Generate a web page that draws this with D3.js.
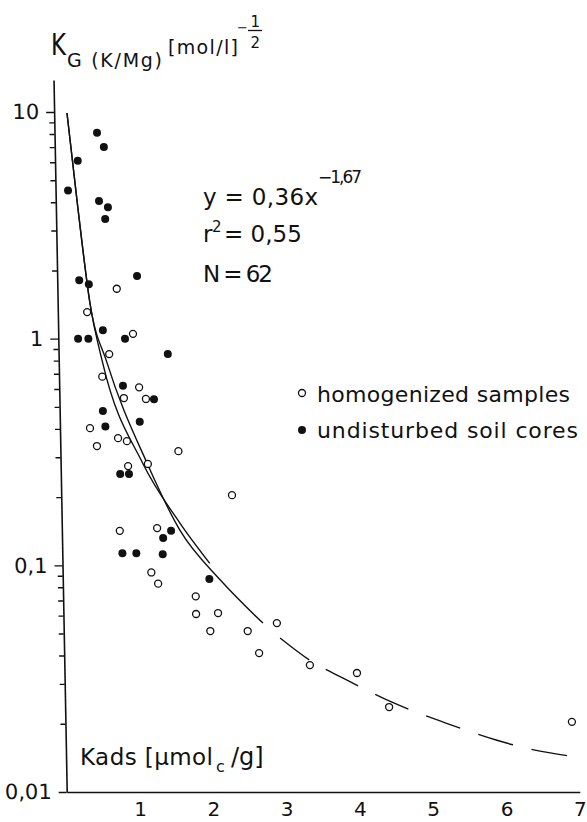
<!DOCTYPE html>
<html>
<head>
<meta charset="utf-8">
<script src="https://cdn.jsdelivr.net/npm/d3@7"></script>
<style>
  body { margin: 0; background: #fff; }
  text { font-family: "DejaVu Sans", sans-serif; fill: #111; }
</style>
</head>
<body>
<svg id="chart" width="587" height="822"></svg>
<script>
// values: [Kads (µmol_c/g), K_G]
const homogenized = [
    [0.81, 1.66], [0.40, 1.31], [1.02, 1.05], [0.69, 0.855], [0.59, 0.68], [1.09, 0.61],
    [0.88, 0.547], [1.18, 0.542], [0.41, 0.403], [0.50, 0.336], [0.79, 0.364], [0.91, 0.353],
    [1.61, 0.319], [0.92, 0.274], [1.19, 0.28], [2.33, 0.204], [0.79, 0.142], [1.30, 0.146],
    [1.21, 0.093], [1.30, 0.083], [1.81, 0.073], [1.81, 0.061], [2.11, 0.0616], [2.00, 0.0513],
    [2.51, 0.0513], [2.91, 0.0556], [2.66, 0.041], [3.35, 0.0363], [3.99, 0.0335], [4.42, 0.0237],
    [6.91, 0.0204]
];
const undisturbed = [
    [0.17, 4.5], [0.31, 6.1], [0.58, 8.1], [0.67, 7.0], [0.59, 4.05], [0.71, 3.8], [0.67, 3.37],
    [0.30, 1.81], [0.43, 1.74], [1.09, 1.89], [0.27, 1.0], [0.41, 1.0], [0.61, 1.09], [0.91, 1.0],
    [1.49, 0.855], [0.87, 0.62], [0.59, 0.48], [1.29, 0.54], [1.09, 0.43], [0.62, 0.41],
    [0.81, 0.253], [0.93, 0.253], [1.49, 0.142], [1.38, 0.132], [0.82, 0.113], [1.01, 0.113],
    [1.37, 0.112], [2.0, 0.087]
];
// fitted curves as drawn in the figure
const fitLong = [[0.175, 9.9], [0.30, 3.77], [0.44, 1.44], [0.66, 0.78], [1.18, 0.282], [1.61, 0.143], [2.15, 0.0861], [2.72, 0.0556]];
const fitLongDashed = [[2.95, 0.0478], [3.39, 0.0374], [3.80, 0.0318], [4.46, 0.0249], [5.18, 0.0202], [5.86, 0.017], [6.40, 0.0153], [6.88, 0.0144]];
const fitShort = [[0.175, 9.9], [0.30, 3.77], [0.44, 1.44], [0.60, 0.78], [1.12, 0.282], [1.61, 0.154], [2.01, 0.102]];

const xTicks = [1, 2, 3, 4, 5, 6, 7];
const yMajor = [0.01, 0.1, 1, 10];
const yLabels = ['0,01', '0,1', '1', '10'];

const svg = d3.select('#chart');
const BASE = 792;

const x = d3.scaleLinear().domain([0, 7]).range([66.7, 579.8]);
const y = d3.scaleLog().domain([0.01, 13.84]).range([BASE, 80]);

// the scanned y axis leans slightly, so the plot group is skewed
const plot = svg.append('g')
    .attr('transform', `translate(0,${BASE}) skewX(1.06) translate(0,${-BASE})`);

let yTickVals = [];
yMajor.slice(0, 3).forEach(d => { for (let k = 1; k < 10; ++k) yTickVals.push(d * k); });
yTickVals.push(10);

const yAxis = plot.append('g')
    .attr('transform', `translate(${x(0)},0)`)
    .call(d3.axisLeft(y)
        .tickValues(yTickVals)
        .tickSize(8)
        .tickSizeOuter(0)
        .tickPadding(7)
        .tickFormat(d => {
            const i = yMajor.findIndex(m => Math.abs(m - d) < 1e-9);
            return i >= 0 ? yLabels[i] : '';
        }));
yAxis.selectAll('.tick line')
    .attr('x2', d => yMajor.some(m => Math.abs(m - d) < 1e-9) ? -8 : -5)
    .attr('stroke', '#111').attr('stroke-width', 1.4);
yAxis.select('.domain').attr('stroke', '#111').attr('stroke-width', 1.6);
yAxis.selectAll('text').attr('font-size', 21).attr('fill', '#111')
    .attr('font-family', '"DejaVu Sans", sans-serif');

const xAxis = svg.append('g')
    .attr('transform', `translate(0,${BASE})`)
    .call(d3.axisBottom(x).tickValues(xTicks).tickSize(0).tickSizeOuter(0).tickPadding(10).tickFormat(d => String(d)));
xAxis.select('.domain').attr('stroke', '#111').attr('stroke-width', 1.6);
xAxis.selectAll('text').attr('font-size', 20).attr('fill', '#111')
    .attr('font-family', '"DejaVu Sans", sans-serif');

// curves
const line = d3.line().x(d => x(d[0])).y(d => y(d[1])).curve(d3.curveMonotoneX);
plot.append('path').datum(fitLong).attr('d', line)
    .attr('fill', 'none').attr('stroke', '#111').attr('stroke-width', 1.4);
plot.append('path').datum(fitShort).attr('d', line)
    .attr('fill', 'none').attr('stroke', '#111').attr('stroke-width', 1.4);
plot.append('path').datum(fitLongDashed).attr('d', line)
    .attr('fill', 'none').attr('stroke', '#111').attr('stroke-width', 1.4)
    .attr('stroke-dasharray', '36,19');

// points
plot.append('g').selectAll('circle')
    .data(homogenized)
    .join('circle')
    .attr('cx', d => x(d[0]))
    .attr('cy', d => y(d[1]))
    .attr('r', 3.5)
    .attr('fill', '#fff')
    .attr('stroke', '#111')
    .attr('stroke-width', 1.3);
plot.append('g').selectAll('circle')
    .data(undisturbed)
    .join('circle')
    .attr('cx', d => x(d[0]))
    .attr('cy', d => y(d[1]))
    .attr('r', 4)
    .attr('fill', '#111');

// y title
const title = svg.append('text');
title.append('tspan').attr('x', 51).attr('y', 55).attr('font-size', 30)
    .attr('textLength', 15).attr('lengthAdjust', 'spacingAndGlyphs').text('K');
title.append('tspan').attr('x', 67).attr('y', 67).attr('font-size', 19)
    .attr('textLength', 95).attr('lengthAdjust', 'spacing').text('G (K/Mg)');
title.append('tspan').attr('x', 168).attr('y', 54).attr('font-size', 19)
    .attr('textLength', 70).attr('lengthAdjust', 'spacing').text('[mol/l]');
title.append('tspan').attr('x', 237).attr('y', 32).attr('font-size', 13).text('−');
title.append('tspan').attr('x', 250.5).attr('y', 27).attr('font-size', 15).text('1');
title.append('tspan').attr('x', 250.5).attr('y', 48).attr('font-size', 15).text('2');
svg.append('line').attr('x1', 248).attr('x2', 262).attr('y1', 30.5).attr('y2', 30.5)
    .attr('stroke', '#111').attr('stroke-width', 1.3);

// x title
const xt = svg.append('text');
xt.append('tspan').attr('x', 80).attr('y', 765).attr('font-size', 23)
    .attr('textLength', 133).attr('lengthAdjust', 'spacing').text('Kads [µmol');
xt.append('tspan').attr('x', 216).attr('y', 772).attr('font-size', 16).text('c');
xt.append('tspan').attr('x', 231).attr('y', 765).attr('font-size', 24).text('/g]');

// equation
const eq1 = svg.append('text');
eq1.append('tspan').attr('x', 203).attr('y', 205).attr('font-size', 23)
    .attr('textLength', 115).attr('lengthAdjust', 'spacing').text('y = 0,36x');
eq1.append('tspan').attr('x', 318).attr('y', 183).attr('font-size', 17)
    .attr('textLength', 44).attr('lengthAdjust', 'spacing').text('−1,67');
const eq2 = svg.append('text');
eq2.append('tspan').attr('x', 203).attr('y', 242).attr('font-size', 23).text('r');
eq2.append('tspan').attr('x', 212).attr('y', 232).attr('font-size', 15).text('2');
eq2.append('tspan').attr('x', 224).attr('y', 242).attr('font-size', 23).text('= 0,55');
svg.append('text').attr('x', 203).attr('y', 282).attr('font-size', 23)
    .attr('textLength', 70).attr('lengthAdjust', 'spacing').text('N = 62');

// legend
svg.append('circle').attr('cx', 302).attr('cy', 393).attr('r', 3.5)
    .attr('fill', '#fff').attr('stroke', '#111').attr('stroke-width', 1.3);
svg.append('text').attr('x', 317).attr('y', 402).attr('font-size', 22)
    .attr('textLength', 253).attr('lengthAdjust', 'spacing').text('homogenized samples');
svg.append('circle').attr('cx', 302).attr('cy', 430).attr('r', 4).attr('fill', '#111');
svg.append('text').attr('x', 317).attr('y', 438).attr('font-size', 22)
    .attr('textLength', 261).attr('lengthAdjust', 'spacing').text('undisturbed soil cores');
</script>
</body>
</html>
